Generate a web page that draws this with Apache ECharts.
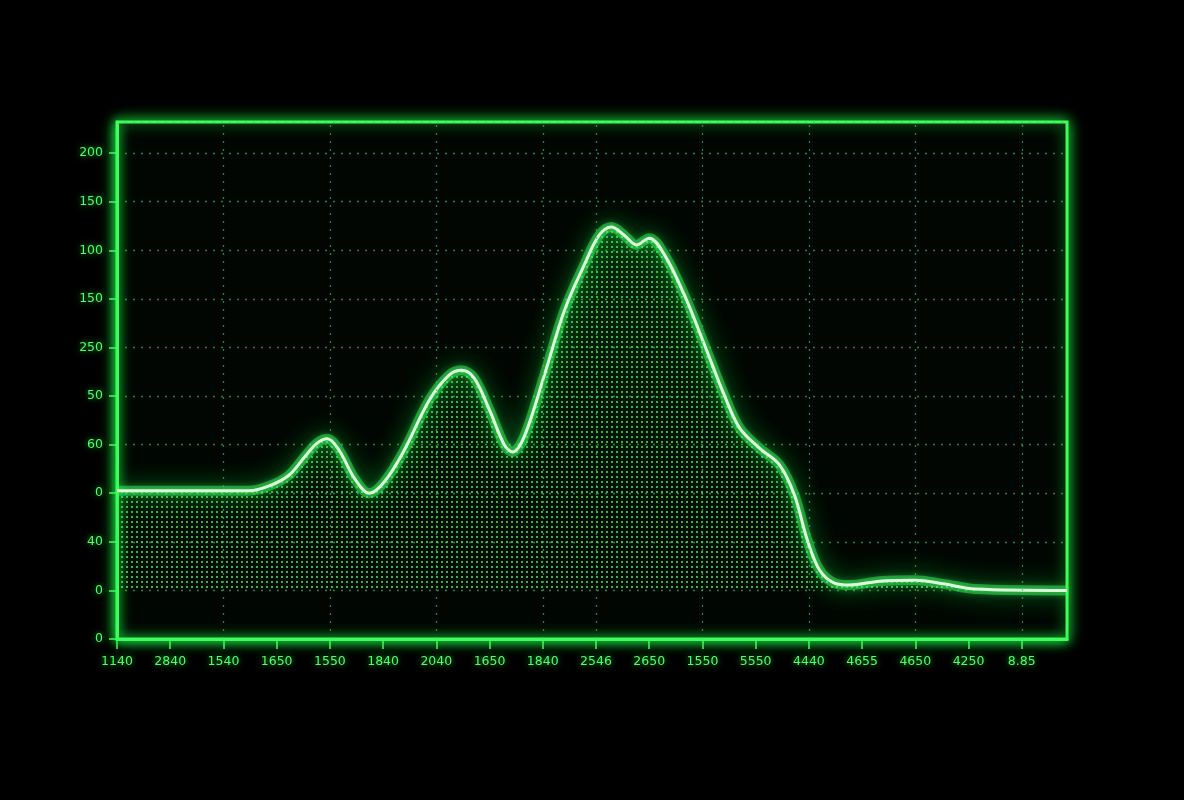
<!DOCTYPE html>
<html>
<head>
<meta charset="utf-8">
<script src="https://cdn.jsdelivr.net/npm/echarts@6/dist/echarts.min.js"></script>
<style>
html,body{margin:0;padding:0;background:#000;}
#chart{width:1184px;height:800px;}
</style>
</head>
<body>
<div id="chart"></div>
<script>
// Tick labels (as printed on the reference)
var xTickLabels = ['1140','2840','1540','1650','1550','1840','2040','1650','1840','2546','2650','1550','5550','4440','4655','4650','4250','8.85'];
var yTickLabels = ['0','0','40','0','60','50','250','150','100','150','200']; // bottom to top

// Vertical grid line positions (tick index)
var vGridAt = [2,4,6,8,9,11,13,15,17];

// Trace values (x in tick-index units, y in tick-index units)
var traceX = [0, 2.48, 2.86, 3.23, 3.52, 3.76, 3.95, 4.17, 4.46, 4.74, 5.02, 5.4, 5.87, 6.24, 6.47, 6.71, 7.0, 7.28, 7.43, 7.65, 8.03, 8.41, 8.78, 9.06, 9.29, 9.53, 9.76, 10.0, 10.29, 10.66, 11.04, 11.41, 11.7, 12.07, 12.45, 12.73, 12.97, 13.2, 13.48, 13.76, 14.33, 14.99, 15.55, 16.12, 17.85];
var traceY = [3.05, 3.05, 3.15, 3.37, 3.74, 4.03, 4.12, 3.89, 3.31, 3.0, 3.23, 3.89, 4.92, 5.43, 5.53, 5.37, 4.71, 3.99, 3.85, 4.16, 5.43, 6.77, 7.7, 8.31, 8.48, 8.31, 8.11, 8.25, 7.9, 7.08, 6.05, 5.02, 4.34, 3.93, 3.58, 2.96, 2.04, 1.42, 1.15, 1.11, 1.19, 1.21, 1.13, 1.03, 1.0];

var baseLevel = 1;
var xMax = 17.85, yMax = 10.64;

var data = traceX.map(function (x, i) { return [x, traceY[i]]; });

// dot pattern for the area fill
var pc = document.createElement('canvas');
pc.width = 5; pc.height = 5;
var pctx = pc.getContext('2d');
pctx.fillStyle = 'rgba(80,255,110,0.95)';
pctx.fillRect(1, 1, 2, 2);

var green = '#3cff5c';
var labelStyle = {
  color: '#4dff6a', fontFamily: 'DejaVu Sans', fontSize: 12.5,
  textShadowColor: 'rgba(0,255,60,0.8)', textShadowBlur: 6
};

var chart = echarts.init(document.getElementById('chart'));
chart.setOption({
  backgroundColor: '#000',
  animation: false,
  grid: {
    left: 117, right: 117, top: 122, bottom: 161,
    show: true, backgroundColor: '#010602',
    borderColor: green, borderWidth: 3,
    shadowColor: 'rgba(30,255,70,0.9)', shadowBlur: 14
  },
  xAxis: {
    type: 'value', min: 0, max: xMax, interval: 1,
    axisLine: { show: true, lineStyle: { color: green, width: 3, shadowColor: '#20ff50', shadowBlur: 10 } },
    axisTick: { show: true, length: 10, lineStyle: { color: green, width: 1.5 } },
    splitLine: { show: false },
    axisLabel: Object.assign({
      margin: 16, showMaxLabel: false,
      formatter: function (v) { var i = Math.round(v); return Math.abs(v - i) < 1e-6 && xTickLabels[i] !== undefined ? xTickLabels[i] : ''; }
    }, labelStyle)
  },
  yAxis: {
    type: 'value', min: 0, max: yMax, interval: 1,
    axisLine: { show: true, lineStyle: { color: green, width: 3, shadowColor: '#20ff50', shadowBlur: 10 } },
    axisTick: { show: true, length: 8, lineStyle: { color: green, width: 1.5 } },
    splitLine: { show: true, lineStyle: { color: 'rgba(60,200,90,0.65)', width: 1.3, type: [2, 6] } },
    axisLabel: Object.assign({
      margin: 14, showMaxLabel: false,
      formatter: function (v) { var i = Math.round(v); return Math.abs(v - i) < 1e-6 && yTickLabels[i] !== undefined ? yTickLabels[i] : ''; }
    }, labelStyle)
  },
  series: [
    {
      name: 'dots', type: 'line', data: data, smooth: 0.35, showSymbol: false, z: 1,
      lineStyle: { width: 0, opacity: 0 },
      areaStyle: { origin: baseLevel, color: { image: pc, repeat: 'repeat' }, opacity: 0.75 },
      markLine: {
        silent: true, symbol: 'none', label: { show: false },
        lineStyle: { color: 'rgba(60,200,90,0.65)', width: 1.3, type: [2, 6] },
        data: vGridAt.map(function (v) { return { xAxis: v }; })
      }
    },
    {
      name: 'glow', type: 'line', data: data, smooth: 0.35, showSymbol: false, z: 2,
      lineStyle: { width: 10, color: 'rgba(50,255,90,0.45)', shadowColor: '#10ff40', shadowBlur: 24 },
      areaStyle: {
        origin: baseLevel,
        color: new echarts.graphic.LinearGradient(0, 0, 0, 1, [
          { offset: 0, color: 'rgba(40,220,70,0.22)' },
          { offset: 1, color: 'rgba(20,120,40,0.05)' }
        ])
      }
    },
    {
      name: 'core', type: 'line', data: data, smooth: 0.35, showSymbol: false, z: 3,
      lineStyle: { width: 3, color: '#dcffdc', shadowColor: '#50ff70', shadowBlur: 8 }
    }
  ]
});
</script>
</body>
</html>
